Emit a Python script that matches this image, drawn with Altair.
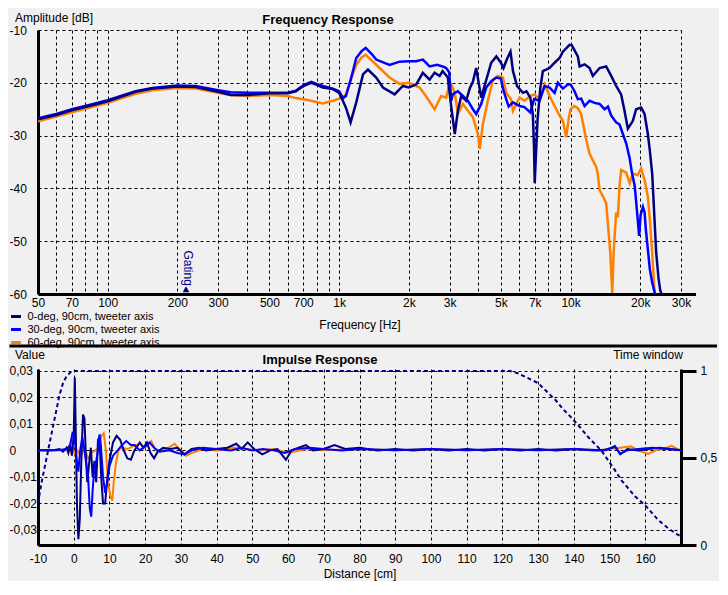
import altair as alt
import pandas as pd

# ---------------- Frequency response data (Hz, dB) ----------------
f0 = [50, 60, 70, 80, 100, 132, 156, 200, 240, 300, 340, 405, 500, 600, 650, 700, 758, 800, 850, 940,
      1000, 1040, 1070, 1121, 1186, 1268, 1332, 1446, 1547, 1737, 1886, 2000, 2154, 2300, 2460, 2585,
      2718, 2800, 2950, 3050, 3160, 3260, 3370, 3540, 3670, 3784, 3910, 4110, 4320, 4540, 4780, 5000,
      5130, 5300, 5500, 5640, 5870, 6220, 6450, 6700, 6870, 6950, 7000, 7080, 7200, 7400, 7590, 8115,
      8530, 8965, 9265, 9900, 10130, 10750, 10940, 11500, 12080, 12480, 13350, 14250, 14980, 15740,
      16540, 17100, 17680, 18590, 19200, 20180, 20880, 21570, 22000, 22520, 22680, 23050, 23430,
      24000, 24400, 24700]
db0 = [-26.9, -26.1, -25.2, -24.6, -23.5, -21.7, -21.1, -20.7, -20.8, -21.7, -22.3, -22.3, -22.0, -22.0,
       -21.6, -20.6, -20.0, -20.4, -20.9, -21.2, -21.9, -23.5, -24.7, -27.5, -23.7, -18.4, -17.5, -19.0,
       -20.9, -22.2, -20.6, -20.9, -20.3, -18.1, -19.4, -18.1, -18.7, -17.8, -19.0, -24.5, -29.7, -25.3,
       -22.5, -23.4, -21.0, -19.8, -17.2, -22.8, -19.5, -16.2, -15.0, -16.2, -17.2, -15.6, -14.1, -17.8,
       -20.6, -21.9, -21.6, -22.8, -25.9, -32.0, -39.0, -34.0, -27.0, -21.0, -17.8, -17.2, -16.2, -15.3,
       -14.1, -12.8, -12.9, -15.0, -16.9, -16.5, -17.2, -18.7, -17.2, -16.9, -18.7, -20.6, -22.2, -25.3,
       -28.7, -27.2, -25.0, -24.7, -25.9, -29.7, -32.8, -37.2, -39.7, -45.9, -52.1, -57.1, -59.3, -60.0]

f30 = [50, 60, 70, 80, 100, 132, 156, 200, 240, 300, 340, 405, 500, 600, 650, 700, 758, 800, 850, 940,
       1000, 1040, 1070, 1121, 1186, 1250, 1302, 1380, 1446, 1651, 1826, 2000, 2150, 2300, 2460, 2650,
       2800, 2900, 2990, 3050, 3100, 3160, 3260, 3426, 3600, 3784, 3910, 4110, 4320, 4540, 4780, 5000,
       5130, 5400, 5640, 6020, 6320, 6700, 6960, 7350, 7725, 8115, 8530, 8815, 9265, 9735, 10000, 10380,
       10750, 11110, 11500, 12080, 12700, 13350, 14030, 14500, 14980, 15740, 16280, 16830, 17400, 18000,
       18440, 18940, 19390, 19780, 20080, 20540, 20880, 21150, 21570, 22000, 22520, 23050, 23200]
db30 = [-26.7, -25.9, -25.0, -24.4, -23.3, -21.6, -21.0, -20.5, -20.6, -21.4, -21.8, -21.9, -21.9, -21.9,
        -21.5, -20.5, -19.8, -20.2, -20.6, -21.1, -21.6, -22.9, -22.5, -19.5, -15.3, -14.0, -13.4, -14.5,
        -15.6, -16.6, -16.0, -15.9, -15.9, -15.6, -16.9, -16.6, -16.9, -17.2, -18.0, -23.4, -22.2, -21.9,
        -21.6, -22.5, -23.4, -25.0, -25.9, -24.0, -20.9, -19.7, -19.0, -19.2, -21.5, -24.5, -23.7, -24.4,
        -24.6, -25.6, -23.1, -23.4, -20.6, -20.9, -21.9, -20.0, -21.1, -20.3, -20.3, -21.5, -23.1, -23.0,
        -24.4, -23.4, -23.8, -24.0, -25.0, -24.5, -26.2, -27.5, -27.9, -29.7, -31.5, -34.3, -37.2, -39.6,
        -44.6, -49.0, -45.0, -43.5, -44.5, -47.8, -51.5, -55.3, -57.8, -59.6, -60.0]

f60 = [50, 60, 70, 80, 100, 132, 156, 200, 240, 300, 340, 405, 500, 600, 650, 700, 758, 850, 940, 1000,
       1040, 1070, 1121, 1186, 1250, 1302, 1400, 1496, 1651, 1826, 2000, 2228, 2370, 2585, 2760, 2900,
       2990, 3050, 3160, 3260, 3426, 3600, 3784, 3980, 4050, 4180, 4390, 4620, 4850, 5100, 5270, 5530,
       5640, 6020, 6320, 6700, 6960, 7350, 7725, 8115, 8530, 8965, 9265, 9570, 9840, 10000, 10380, 10750,
       11110, 11400, 11700, 12080, 12480, 12900, 13100, 13350, 13790, 14250, 14500, 14840, 15140, 15350,
       15740, 16000, 16280, 16540, 17400, 18000, 18590, 19480, 20180, 20880, 21570, 22000, 22520, 23050,
       23200]
db60 = [-27.3, -26.4, -25.6, -24.9, -23.8, -22.1, -21.4, -21.0, -21.1, -21.9, -22.3, -22.5, -22.3, -22.5,
        -22.9, -23.1, -23.4, -23.9, -23.4, -23.0, -22.7, -22.2, -19.5, -16.6, -15.2, -14.7, -16.0, -17.2,
        -19.0, -20.2, -20.0, -20.9, -22.5, -25.0, -22.5, -22.8, -20.3, -20.3, -21.9, -25.9, -24.0, -25.3,
        -26.5, -29.7, -32.5, -27.8, -23.4, -19.4, -18.7, -19.0, -21.9, -23.1, -25.3, -22.8, -23.4, -22.5,
        -22.2, -23.1, -20.3, -22.5, -24.4, -26.2, -27.2, -30.3, -26.5, -25.0, -24.4, -24.8, -25.9, -28.4,
        -30.9, -33.4, -34.7, -35.9, -37.2, -40.3, -41.5, -42.8, -46.8, -52.1, -59.8, -52.0, -44.6, -45.5,
        -39.6, -36.5, -37.0, -39.0, -37.2, -37.5, -36.2, -38.4, -41.5, -45.9, -52.1, -59.6, -60.0]

# ---------------- Impulse response data (cm, value) ----------------
cm0 = [-10, -6, -4, -3, -2, -1.5, -1, -0.5, 0, 0.3, 0.6, 0.9, 1.3, 1.7, 2.1, 2.6, 3.0, 3.4, 3.8, 4.3,
       4.8, 5.3, 5.8, 6.3, 6.8, 7.2, 7.7, 8.2, 8.8, 9.3, 10, 11, 12, 13, 14, 15, 16, 17, 18.5, 19.5, 20.5,
       21.5, 22.5, 23.5, 25, 27, 29, 31, 33, 35, 37, 40, 43, 45.5, 47, 48.7, 50.5, 52.8, 55, 57, 59.4, 61,
       63, 65, 67, 70, 73, 76, 80, 85, 90, 95, 100, 105, 110, 115, 120, 125, 130, 135, 140, 145, 149,
       151.5, 153, 155, 158, 161, 164, 167, 170]
v0 = [0, 0, 0.0005, -0.0005, 0.001, -0.001, 0.002, -0.002, 0.006, 0.0275, 0.005, -0.02, -0.0335, -0.026,
      -0.005, 0.0135, 0.012, -0.002, -0.012, -0.005, 0.001, -0.01, -0.004, -0.012, 0.004, 0.005, -0.01,
      -0.02, -0.02, -0.012, -0.004, 0.003, 0.0055, 0.004, 0.0, -0.003, -0.0035, 0.0, 0.003, 0.001, 0.003,
      -0.001, -0.003, -0.0005, 0.001, 0.0005, 0.001, -0.0015, 0.0005, 0.001, 0.0, 0.0005, 0.001, 0.0025,
      0.0005, 0.003, 0.0005, -0.0015, 0.0, 0.0005, -0.0035, 0.0, 0.001, 0.002, 0.0, 0.0005, 0.002, 0.0005,
      0.001, 0.0, 0.0005, 0.0, 0.0005, 0.0, 0.0005, 0.0, 0.0005, 0.0, 0.0005, 0.0, 0.0005, 0.0, 0.0,
      0.0016, -0.0015, 0.0005, 0.0, 0.0005, 0.001, 0.0005, 0.0]

cm30 = [-10, -5, -2, -1, -0.3, 0.3, 0.8, 1.3, 1.8, 2.4, 3.0, 3.6, 4.0, 4.5, 4.9, 5.3, 5.8, 6.3, 6.8, 7.2,
        7.6, 8.2, 8.8, 9.4, 10, 11, 12.3, 13.5, 14.7, 16, 17, 18.5, 20, 21.2, 22.5, 24, 26.8, 29, 31, 33,
        36, 40, 44, 47, 50, 53, 56, 59, 62, 66, 70, 75, 80, 90, 100, 110, 120, 130, 140, 148, 151.5, 153,
        155, 158, 162, 166, 170]
v30 = [0, 0, 0.0005, 0.002, 0.007, 0.004, -0.003, -0.008, 0.0, 0.005, 0.0, -0.006, -0.0095, -0.022,
       -0.025, -0.015, -0.006, -0.004, 0.0, 0.006, 0.002, -0.01, -0.016, -0.012, -0.006, -0.002, 0.0,
       0.002, 0.0035, 0.002, 0.002, 0.0, 0.0015, 0.003, 0.001, -0.0005, 0.0, -0.001, -0.0015, 0.0, 0.001,
       0.0005, 0.0, 0.001, 0.0, 0.0005, 0.0, -0.001, 0.0005, 0.001, 0.0005, 0.0, 0.0005, 0.0, 0.0005,
       0.0, 0.0005, 0.0, 0.0005, 0.0, 0.0013, -0.0012, 0.0, 0.0005, 0.001, 0.0005, 0.0]

cm60 = [-10, -3, -1.5, -0.7, 0, 0.5, 1, 2, 3, 4, 5, 6, 7, 7.8, 8.4, 9, 9.6, 10.3, 10.8, 11.2, 11.8, 12.5,
        13.5, 15, 17.4, 18.6, 20, 21.7, 23, 24.7, 26.5, 28.2, 30, 31.4, 33, 36, 40, 45, 48, 52, 56, 60, 65,
        70, 80, 90, 100, 110, 120, 130, 140, 146, 150, 153, 156, 158, 160.8, 163, 165, 167.4, 169, 170]
v60 = [0, 0, 0.001, 0.0035, 0.0, -0.002, 0.0, -0.002, 0.001, -0.003, -0.001, 0.0, 0.001, 0.0055, 0.0065,
       0.0, -0.012, -0.0175, -0.019, -0.012, -0.005, 0.0, 0.001, 0.0005, 0.002, 0.0025, 0.001, 0.0035, 0.0,
       0.0, 0.001, 0.0025, 0.0, -0.002, -0.001, 0.0005, 0.0, 0.001, 0.0005, 0.0, 0.0005, -0.001, 0.0005,
       0.0, 0.0005, 0.0, 0.0005, 0.0, 0.0005, 0.0, 0.0005, 0.0, 0.0005, 0.001, 0.0015, 0.0, -0.0013, 0.0,
       0.0005, 0.0017, 0.0005, 0.0]

# Time window (cm, 0..1)
cmw = [-10, -9, -8, -7, -6, -5, -4, -3, -2, -1, -0.5, 122, 124.5, 127, 130, 132.5, 135, 137, 139.4, 142,
       144, 147.8, 151.5, 153.4, 157.1, 160, 163.7, 166.5, 168.8, 170]
win = [0.24, 0.36, 0.46, 0.56, 0.66, 0.76, 0.86, 0.93, 0.97, 0.99, 1.0, 1.0, 0.985, 0.96, 0.93, 0.88,
       0.83, 0.78, 0.73, 0.67, 0.62, 0.54, 0.43, 0.37, 0.28, 0.227, 0.142, 0.095, 0.063, 0.05]

names = ["0-deg, 90cm, tweeter axis", "30-deg, 90cm, tweeter axis", "60-deg, 90cm, tweeter axis"]
colors = ["#000080", "#0000ff", "#ff8000"]

freq_grid = [50, 60, 70, 80, 90, 100, 200, 300, 400, 500, 600, 700, 800, 900, 1000, 2000, 3000, 4000,
             5000, 6000, 7000, 8000, 9000, 10000, 20000, 30000]
freq_labels = [50, 70, 100, 200, 300, 500, 700, 1000, 2000, 3000, 5000, 7000, 10000, 20000, 30000]
db_ticks = [-60, -55, -50, -45, -40, -35, -30, -25, -20, -15, -10]
cm_ticks = [-10, 0, 10, 20, 30, 40, 50, 60, 70, 80, 90, 100, 110, 120, 130, 140, 150, 160]
val_ticks = [-0.03, -0.02, -0.01, 0, 0.01, 0.02, 0.03]
win_ticks = [0, 0.5, 1]

FONT = "Liberation Sans"
W = 643
H1 = 264
H2 = 176

fr_frames = []
for fl, dl, nm in [(f0, db0, names[0]), (f30, db30, names[1]), (f60, db60, names[2])]:
    fr_frames.append(pd.DataFrame({"freq": fl, "db": dl, "series": nm}))

grid_kw = dict(grid=True, gridColor="black", gridDash=[3, 3], gridWidth=1, gridOpacity=1)
dom_kw = dict(domainColor="black", domainWidth=3, ticks=False, labelFlush=False, labelOverlap=False,
              labelColor="black", labelFont=FONT, labelFontSize=12)

lab_set = ",".join(str(v) for v in freq_labels)
x_freq = alt.X("freq:Q",
               scale=alt.Scale(type="log", domain=[50, 30000], nice=False),
               axis=alt.Axis(values=freq_grid,
                             labelExpr=f"indexof([{lab_set}], datum.value) >= 0 ? (datum.value >= 1000 ? (datum.value/1000) + 'k' : '' + datum.value) : ''",
                             labelPadding=3, title="Frequency [Hz]", titlePadding=11,
                             titleFont=FONT, titleFontSize=12, titleFontWeight="normal", titleColor="black",
                             **grid_kw, **dom_kw))
y_db = alt.Y("db:Q",
             scale=alt.Scale(domain=[-60, -10], nice=False, zero=False),
             axis=alt.Axis(values=db_ticks, labelExpr="(datum.value < 0 ? '-' : '') + abs(datum.value)",
                           labelAlign="left", labelPadding=29, title=None, **grid_kw, **dom_kw))
color_enc = alt.Color("series:N",
                      scale=alt.Scale(domain=names, range=colors),
                      legend=alt.Legend(orient="none", legendX=-28.5, legendY=280, title=None,
                                        symbolType="stroke", symbolStrokeWidth=3, symbolSize=100,
                                        labelFont=FONT, labelFontSize=11, labelColor="black",
                                        rowPadding=0, labelOffset=5, padding=0))


def fr_line(df):
    return alt.Chart(df).mark_line(strokeWidth=2.5, clip=True).encode(x=x_freq, y=y_db, color=color_enc)


def text_at(txt, x, y, **kw):
    return alt.Chart(pd.DataFrame({"t": [txt]})).mark_text(font=FONT, color="black", **kw).encode(
        text="t:N", x=alt.value(x), y=alt.value(y))


def hrule(x1, x2, y, width=3, opacity=1.0):
    return alt.Chart(pd.DataFrame({"a": [0]})).mark_rule(
        color="black", strokeWidth=width, opacity=opacity).encode(
        x=alt.value(x1), x2=alt.value(x2), y=alt.value(y))


gating_text = alt.Chart(pd.DataFrame({"freq": [222], "db": [-55.1], "t": ["Gating"]})).mark_text(
    font=FONT, fontSize=12, color="#000080", angle=90).encode(x="freq:Q", y="db:Q", text="t:N")
gating_tri = alt.Chart(pd.DataFrame({"freq": [218], "db": [-59.1]})).mark_point(
    shape="triangle-up", filled=True, size=45, color="#000080", opacity=1).encode(x="freq:Q", y="db:Q")

top = alt.layer(
    fr_line(fr_frames[2]), fr_line(fr_frames[1]), fr_line(fr_frames[0]),
    gating_text, gating_tri,
    hrule(W, W + 15, H1 + 0.5),                   # axis line extension
    hrule(-28.5, W + 36, H1 + 52),                # separator between panels
    hrule(-28.5, 0, -22, width=1, opacity=0.0),   # top bound marker
    text_at("Frequency Response", 290, -10, fontSize=13, fontWeight="bold"),
    text_at("Amplitude [dB]", -23, -12, fontSize=12, align="left"),
).properties(width=W, height=H1)

# ---------------- Impulse response panel ----------------
x_cm = alt.X("cm:Q", scale=alt.Scale(domain=[-10, 170], nice=False, zero=False),
             axis=alt.Axis(values=cm_ticks, labelExpr="(datum.value < 0 ? '-' : '') + abs(datum.value)",
                           labelPadding=8, title="Distance [cm]", titlePadding=4, titleFont=FONT,
                           titleFontSize=12, titleFontWeight="normal", titleColor="black",
                           **grid_kw, **dom_kw))
y_val = alt.Y("val:Q", scale=alt.Scale(domain=[-0.0357, 0.0307], nice=False, zero=False),
              axis=alt.Axis(values=val_ticks,
                            labelExpr="datum.value == 0 ? '0' : (datum.value < 0 ? '-' : '') + replace(format(abs(datum.value), '.2f'), '.', ',')",
                            labelAlign="left", labelPadding=29, title=None, **grid_kw, **dom_kw))
y_win = alt.Y("w:Q", scale=alt.Scale(domain=[0, 1.011], nice=False, zero=False),
              axis=alt.Axis(orient="right", values=win_ticks, grid=False,
                            labelExpr="datum.value == 0.5 ? '0,5' : '' + datum.value",
                            domainColor="black", domainWidth=3, ticks=True, tickSize=15, tickWidth=3,
                            tickColor="black", labelPadding=4, labelColor="black", labelFont=FONT,
                            labelFontSize=12, labelFlush=False, title=None))


def ir_line(cms, vals, col):
    return alt.Chart(pd.DataFrame({"cm": cms, "val": vals})).mark_line(
        strokeWidth=2, color=col, clip=True).encode(x=x_cm, y=y_val)


ir_layers = alt.layer(
    ir_line(cm60, v60, colors[2]), ir_line(cm0, v0, colors[0]), ir_line(cm30, v30, colors[1]),
    hrule(W, W + 15, H2 + 0.5),
    hrule(-28.5, 0, -27, width=1, opacity=0.0),        # top bound marker
    hrule(300, 301, H2 + 36, width=1, opacity=0.0),    # bottom bound marker
    text_at("Impulse Response", 282, -9, fontSize=13, fontWeight="bold"),
    text_at("Value", -23, -14, fontSize=12, align="left"),
    text_at("Time window", 610, -14, fontSize=12),
)

win_layer = alt.Chart(pd.DataFrame({"cm": cmw, "w": win})).mark_line(
    strokeWidth=2, color="#000080", strokeDash=[4, 3], clip=True).encode(x=x_cm, y=y_win)

bottom = alt.layer(ir_layers, win_layer).resolve_scale(y="independent").properties(width=W, height=H2)

chart = alt.vconcat(top, bottom, spacing=-6).properties(
    background="#f0f0f0", padding={"left": 0, "top": 0, "right": 0, "bottom": 0}
).configure_view(stroke=None)

chart.save("out.html", embed_options={"renderer": "svg", "actions": False})
